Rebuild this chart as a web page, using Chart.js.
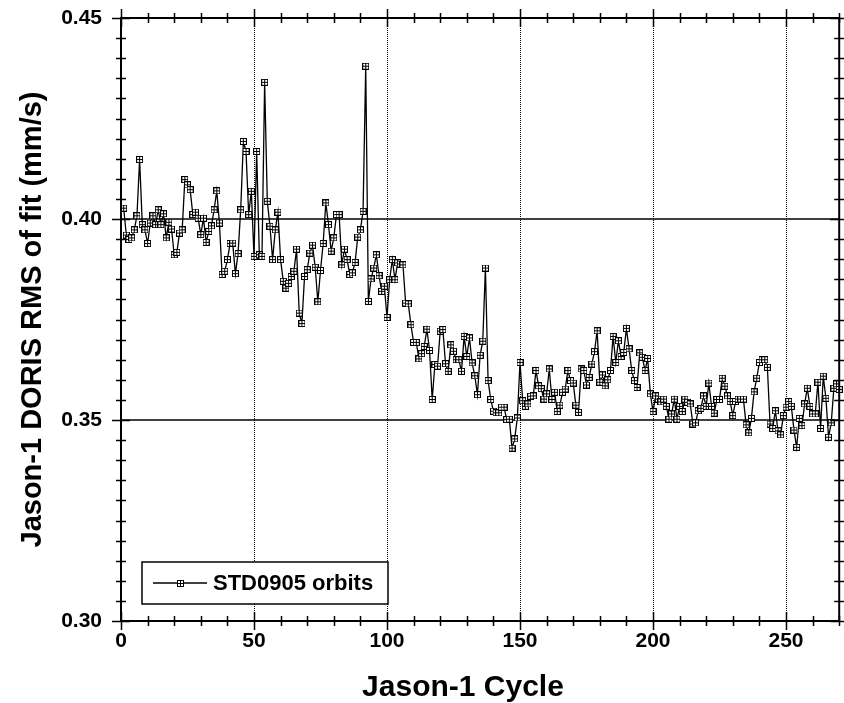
<!DOCTYPE html>
<html>
<head>
<meta charset="utf-8">
<title>Jason-1 DORIS RMS of fit</title>
<script src="https://cdn.jsdelivr.net/npm/chart.js@4.4.1/dist/chart.umd.min.js"></script>
<style>
    html, body { margin: 0; padding: 0; background: #fff; }
    #wrap { width: 844px; height: 703px; }
</style>
</head>
<body>
<div id="wrap"><canvas id="rmsChart" width="844" height="703"></canvas></div>
<script>
// Data: one RMS value per Jason-1 cycle, starting at cycle 1
const firstCycle = 1;
const rmsOfFit = [
    0.4027, 0.3960, 0.3949, 0.3953, 0.3973, 0.4008, 0.4148, 0.3986, 0.3973, 0.3939,
    0.3990, 0.4008, 0.3986, 0.4023, 0.3986, 0.4013, 0.3953, 0.3992, 0.3975, 0.3911,
    0.3917, 0.3965, 0.3973, 0.4098, 0.4085, 0.4073, 0.4011, 0.4017, 0.4002, 0.3961,
    0.4002, 0.3942, 0.3969, 0.3983, 0.4023, 0.4070, 0.3990, 0.3862, 0.3870, 0.3899,
    0.3939, 0.3940, 0.3864, 0.3914, 0.4023, 0.4193, 0.4168, 0.4011, 0.4069, 0.3907,
    0.4168, 0.3911, 0.3907, 0.4340, 0.4044, 0.3982, 0.3899, 0.3973, 0.4017, 0.3899,
    0.3845, 0.3828, 0.3840, 0.3857, 0.3870, 0.3925, 0.3766, 0.3740, 0.3857, 0.3874,
    0.3915, 0.3935, 0.3880, 0.3794, 0.3872, 0.3939, 0.4040, 0.3986, 0.3920, 0.3953,
    0.4011, 0.4011, 0.3886, 0.3925, 0.3899, 0.3862, 0.3866, 0.3892, 0.3955, 0.3973,
    0.4019, 0.4380, 0.3795, 0.3851, 0.3878, 0.3911, 0.3859, 0.3820, 0.3833, 0.3755,
    0.3849, 0.3899, 0.3849, 0.3891, 0.3888, 0.3886, 0.3791, 0.3789, 0.3737, 0.3693,
    0.3693, 0.3652, 0.3665, 0.3683, 0.3726, 0.3673, 0.3551, 0.3638, 0.3634, 0.3721,
    0.3725, 0.3640, 0.3621, 0.3687, 0.3671, 0.3650, 0.3650, 0.3621, 0.3708, 0.3658,
    0.3704, 0.3642, 0.3610, 0.3563, 0.3661, 0.3696, 0.3878, 0.3598, 0.3551, 0.3522,
    0.3518, 0.3518, 0.3532, 0.3532, 0.3501, 0.3502, 0.3430, 0.3453, 0.3505, 0.3643,
    0.3548, 0.3534, 0.3540, 0.3559, 0.3560, 0.3623, 0.3585, 0.3578, 0.3552, 0.3565,
    0.3627, 0.3551, 0.3569, 0.3521, 0.3537, 0.3569, 0.3577, 0.3623, 0.3598, 0.3592,
    0.3537, 0.3519, 0.3627, 0.3623, 0.3587, 0.3606, 0.3639, 0.3670, 0.3722, 0.3594,
    0.3612, 0.3585, 0.3600, 0.3623, 0.3708, 0.3643, 0.3697, 0.3658, 0.3668, 0.3728,
    0.3677, 0.3623, 0.3598, 0.3581, 0.3667, 0.3656, 0.3623, 0.3653, 0.3565, 0.3521,
    0.3560, 0.3552, 0.3545, 0.3552, 0.3534, 0.3502, 0.3515, 0.3552, 0.3502, 0.3534,
    0.3521, 0.3552, 0.3544, 0.3540, 0.3490, 0.3493, 0.3523, 0.3529, 0.3560, 0.3534,
    0.3592, 0.3534, 0.3517, 0.3551, 0.3551, 0.3604, 0.3584, 0.3560, 0.3546, 0.3511,
    0.3546, 0.3552, 0.3552, 0.3552, 0.3488, 0.3468, 0.3504, 0.3570, 0.3604, 0.3643,
    0.3650, 0.3650, 0.3631, 0.3490, 0.3479, 0.3523, 0.3473, 0.3463, 0.3511, 0.3532,
    0.3546, 0.3534, 0.3475, 0.3432, 0.3504, 0.3486, 0.3540, 0.3579, 0.3534, 0.3515,
    0.3515, 0.3594, 0.3479, 0.3609, 0.3554, 0.3457, 0.3493, 0.3579, 0.3590, 0.3576
];

const xMajorTicks = [0, 50, 100, 150, 200, 250];
const yMajorTicks = [0.30, 0.35, 0.40, 0.45];
const xRange = [0, 270];
const yRange = [0.30, 0.45];
const xMinorStep = 10;
const yMinorStep = 0.005;

const seriesLabel = 'STD0905 orbits';
const xTitle = 'Jason-1 Cycle';
const yTitle = 'Jason-1 DORIS RMS of fit (mm/s)';

const FONT = "'Liberation Sans', Arial, sans-serif";

// square marker with a cross inside, like the original plot symbol
function makeMarker(size) {
    const c = document.createElement('canvas');
    c.width = size;
    c.height = size;
    const g = c.getContext('2d');
    g.fillStyle = '#000';
    g.fillRect(0, 0, size, size);
    g.fillStyle = '#fff';
    const cell = (size - 3) / 2;
    g.fillRect(1, 1, cell, cell);
    g.fillRect(2 + cell, 1, cell, cell);
    g.fillRect(1, 2 + cell, cell, cell);
    g.fillRect(2 + cell, 2 + cell, cell, cell);
    return c;
}
const marker = makeMarker(7);

// frame, tick marks, grid lines, legend box and x title
const plotFrame = {
    id: 'plotFrame',
    beforeDatasetsDraw(chart) {
        const { ctx, chartArea: a, scales: { x, y } } = chart;
        ctx.save();
        ctx.strokeStyle = '#000';

        // solid horizontal lines at the inner major y values
        ctx.lineWidth = 1.5;
        yMajorTicks.forEach(v => {
            if (v <= yRange[0] || v >= yRange[1]) return;
            const py = y.getPixelForValue(v);
            ctx.beginPath();
            ctx.moveTo(a.left, py);
            ctx.lineTo(a.right, py);
            ctx.stroke();
        });

        // dotted vertical lines at the major x values
        ctx.lineWidth = 1;
        ctx.setLineDash([1, 1]);
        xMajorTicks.forEach(v => {
            if (v <= xRange[0] || v >= xRange[1]) return;
            const px = Math.round(x.getPixelForValue(v)) + 0.5;
            ctx.beginPath();
            ctx.moveTo(px, a.top);
            ctx.lineTo(px, a.bottom);
            ctx.stroke();
        });
        ctx.restore();
    },
    afterDatasetsDraw(chart) {
        const { ctx, chartArea: a, scales: { x, y } } = chart;
        ctx.save();
        ctx.strokeStyle = '#000';
        ctx.lineWidth = 2;
        ctx.strokeRect(a.left, a.top, a.right - a.left, a.bottom - a.top);

        ctx.lineWidth = 1.5;
        ctx.beginPath();
        const nx = Math.round((xRange[1] - xRange[0]) / xMinorStep);
        for (let i = 0; i <= nx; i++) {
            const v = xRange[0] + i * xMinorStep;
            const px = Math.round(x.getPixelForValue(v)) + 0.5;
            const len = xMajorTicks.includes(v) ? 9 : 5;
            ctx.moveTo(px, a.top - len); ctx.lineTo(px, a.top + len);
            ctx.moveTo(px, a.bottom - len); ctx.lineTo(px, a.bottom + len);
        }
        const ny = Math.round((yRange[1] - yRange[0]) / yMinorStep);
        for (let i = 0; i <= ny; i++) {
            const v = yRange[0] + i * yMinorStep;
            const py = Math.round(y.getPixelForValue(v)) + 0.5;
            const len = i % 10 === 0 ? 9 : 5;
            ctx.moveTo(a.left - len, py); ctx.lineTo(a.left + len, py);
            ctx.moveTo(a.right - len, py); ctx.lineTo(a.right + len, py);
        }
        ctx.stroke();
        ctx.restore();
    },
    afterDraw(chart) {
        const { ctx } = chart;
        const ds = chart.data.datasets[0];
        ctx.save();

        // legend box
        const box = { left: 142, top: 562, width: 246, height: 42 };
        ctx.fillStyle = '#fff';
        ctx.fillRect(box.left, box.top, box.width, box.height);
        ctx.strokeStyle = '#000';
        ctx.lineWidth = 1.5;
        ctx.strokeRect(box.left, box.top, box.width, box.height);

        const ly = box.top + box.height / 2;
        ctx.lineWidth = 1.3;
        ctx.beginPath();
        ctx.moveTo(box.left + 11, ly);
        ctx.lineTo(box.left + 65, ly);
        ctx.stroke();
        ctx.drawImage(marker, box.left + 35, Math.round(ly) - 3);

        ctx.fillStyle = '#000';
        ctx.font = 'bold 22px ' + FONT;
        ctx.textBaseline = 'middle';
        ctx.textAlign = 'left';
        ctx.fillText(ds.label, box.left + 71, ly + 1);

        // x axis title
        ctx.font = 'bold 30px ' + FONT;
        ctx.textAlign = 'center';
        ctx.fillText(xTitle, 463, 688);
        ctx.restore();
    }
};

const ctx = document.getElementById('rmsChart').getContext('2d');
new Chart(ctx, {
    type: 'line',
    data: {
        datasets: [{
            label: seriesLabel,
            data: rmsOfFit.map((v, i) => ({ x: firstCycle + i, y: v })),
            borderColor: '#000',
            borderWidth: 1.3,
            pointStyle: marker,
            pointRadius: 3.5,
            pointHoverRadius: 3.5,
            tension: 0,
            fill: false,
            clip: false
        }]
    },
    options: {
        responsive: false,
        animation: false,
        devicePixelRatio: 1,
        layout: { padding: { top: 18, right: 1, left: 0, bottom: 0 } },
        plugins: {
            legend: { display: false },
            tooltip: { enabled: false }
        },
        scales: {
            x: {
                type: 'linear',
                min: xRange[0],
                max: xRange[1],
                afterBuildTicks: s => { s.ticks = xMajorTicks.map(v => ({ value: v })); },
                afterFit: s => {
                    s.height = 82;
                    s.paddingLeft = 0;
                    s.paddingRight = 0;
                },
                grid: { display: false, drawTicks: false },
                border: { display: false },
                ticks: {
                    color: '#000',
                    padding: 8,
                    maxRotation: 0,
                    font: { family: FONT, size: 21, weight: 'bold' }
                },
                title: { display: false }
            },
            y: {
                type: 'linear',
                min: yRange[0],
                max: yRange[1],
                afterBuildTicks: s => { s.ticks = yMajorTicks.map(v => ({ value: v })); },
                afterFit: s => {
                    s.width = 121;
                    s.paddingTop = 0;
                    s.paddingBottom = 0;
                },
                grid: { display: false, drawTicks: false },
                border: { display: false },
                ticks: {
                    color: '#000',
                    padding: 19,
                    font: { family: FONT, size: 21, weight: 'bold' },
                    callback: v => v.toFixed(2)
                },
                title: {
                    display: true,
                    text: yTitle,
                    color: '#000',
                    padding: { top: 16, bottom: 0 },
                    font: { family: FONT, size: 29, weight: 'bold' }
                }
            }
        }
    },
    plugins: [plotFrame]
});
</script>
</body>
</html>
